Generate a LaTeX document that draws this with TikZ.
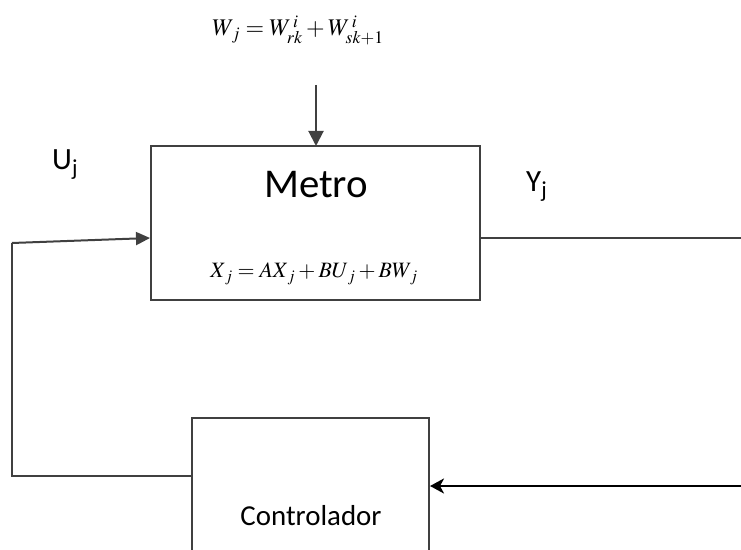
\documentclass[tikz,border=0pt]{standalone}
\usepackage{mathptmx}
\usepackage{fontspec}
\setmainfont{Carlito}
\usetikzlibrary{arrows.meta}
\begin{document}
\begin{tikzpicture}[x=1bp,y=-1bp,
  blockbox/.style={draw=black!75,line width=2bp,rectangle,inner sep=0pt},
  wire/.style={draw=black!75,line width=2bp},
  fbwire/.style={draw=black,line width=2.6bp},
  lbl/.style={inner sep=0pt,anchor=base west,font=\fontsize{31}{36}\selectfont}]
\useasboundingbox (0,0) rectangle (741,550);
% blocks
\node[blockbox,minimum width=329bp,minimum height=154bp] (metro) at (315.5,223) {};
\node[inner sep=0pt,anchor=base,font=\fontsize{41}{48}\selectfont] (metrotxt) at (316,198) {Metro};
\node[inner sep=0pt,anchor=base,font=\fontsize{22}{26}\selectfont] (xeq) at (314,278) {$X_{\,j}=AX_{\,j}+BU_{\,j}+BW_{\,j}$};
\node[blockbox,minimum width=237bp,minimum height=200bp] (ctrl) at (310.5,518) {};
\node[inner sep=0pt,anchor=base,font=\fontsize{29}{34}\selectfont] (ctrltxt) at (311,525) {Controlador};
\node[inner sep=0pt,anchor=base,font=\fontsize{24}{28}\selectfont] (weq) at (298,36) {$W_{\,j}=W^{\,i}_{rk}+W^{\,i}_{sk+1}$};
\node[lbl] (uj) at (52,170) {U\textsubscript{j}};
\node[lbl] (yj) at (526,192) {Y\textsubscript{j}};
% coordinates
\coordinate (win) at (316,85);
\coordinate (fbtop) at (12,243);
\coordinate (fbbot) at (12,476);
\coordinate (yout) at (741,238);
\coordinate (ret) at (741,486);
% connectors
\draw[wire,-{Triangle[width=15bp,length=15bp]}] (win) -- (316,146);
\draw[wire,-{Triangle[width=13bp,length=14bp]}] (fbtop) -- (metro.west |- 0,238);
\draw[wire] (ctrl.west |- fbbot) -- (fbbot) -- (fbtop);
\draw[wire] (metro.east |- yout) -- (yout);
\draw[fbwire,-{Stealth[width=15bp,length=14bp,inset=4bp]}] (ret) -- (ctrl.east |- ret);
\end{tikzpicture}
\end{document}
